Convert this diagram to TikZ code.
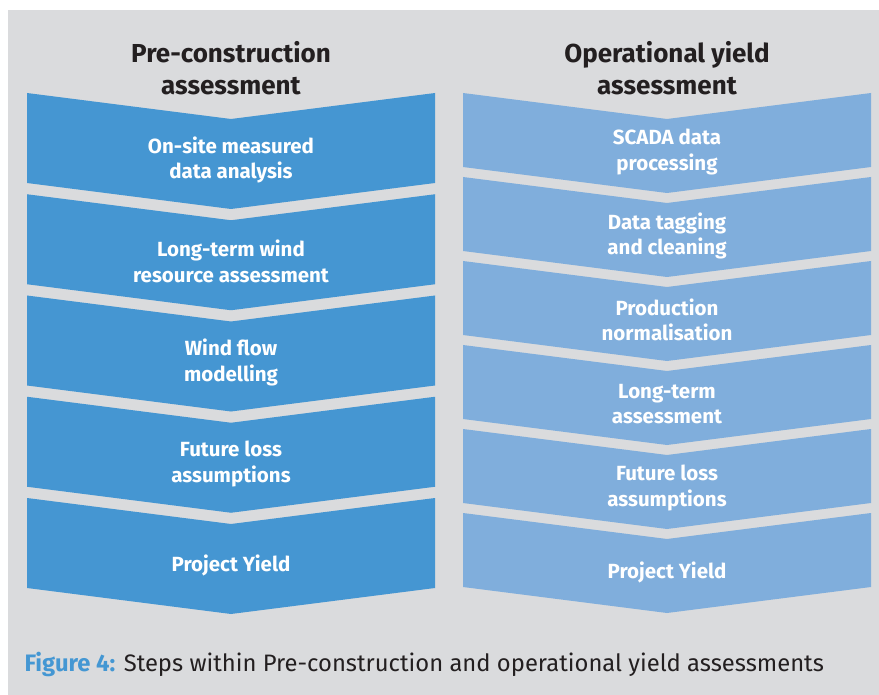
\documentclass[tikz,border=0pt]{standalone}
\usepackage{fontspec}
\setmainfont{Fira Sans}
\usepackage{tikz}
\usetikzlibrary{positioning}

\definecolor{panelgrey}{HTML}{DADBDD}
\definecolor{preblue}{HTML}{4596D2}
\definecolor{opblue}{HTML}{80AEDC}
\definecolor{captionblue}{HTML}{4497D3}
\definecolor{captiontext}{HTML}{231F20}

\tikzset{
    heading/.style={align=center, font=\fontsize{26}{32}\selectfont\bfseries, text=captiontext},
    steplabel/.style={align=center, font=\fontsize{20.5}{25.5}\selectfont\bfseries, text=white},
}

% chevron: left x, right x, top y, height, colour
\newcommand{\chevron}[5]{%
    \fill[#5] (#1,#3) -- ({(#1+#2)/2},#3+26) -- (#2,#3) -- (#2,#3+#4)
        -- ({(#1+#2)/2},#3+#4+26) -- (#1,#3+#4) -- cycle;
}

\begin{document}
\begin{tikzpicture}[x=1pt, y=-1pt]
    % background
    \useasboundingbox (0,0) rectangle (879,695);
    \fill[white] (0,0) rectangle (879,695);
    \fill[panelgrey] (8,10) rectangle (879,695);

    % column titles
    \node[heading] (pretitle) at (231,68) {Pre-construction\\assessment};
    \node[heading] (optitle) at (667,68) {Operational yield\\assessment};

    % pre-construction steps
    \foreach \txt [count=\i] in {{On-site measured\\data analysis}, {Long-term wind\\resource assessment},
        {Wind flow\\modelling}, {Future loss\\assumptions}, {Project Yield}} {
        \pgfmathsetmacro{\ytop}{93+101.25*(\i-1)}
        \chevron{27}{435}{\ytop}{90}{preblue}
        \node[steplabel] (P\i) at (231,\ytop+67) {\txt};
    }

    % operational steps
    \foreach \txt [count=\i] in {{SCADA data\\processing}, {Data tagging\\and cleaning},
        {Production\\normalisation}, {Long-term\\assessment}, {Future loss\\assumptions}, {Project Yield}} {
        \pgfmathsetmacro{\ytop}{93+84*(\i-1)}
        \chevron{463}{871}{\ytop}{74}{opblue}
        \node[steplabel] (O\i) at (667,\ytop+59) {\txt};
    }

    % caption
    \node[anchor=west, font=\fontsize{23.8}{28}\selectfont, text=captiontext] (caption) at (21,664)
        {\textcolor{captionblue}{\bfseries Figure 4:} Steps within Pre-construction and operational yield assessments};
\end{tikzpicture}
\end{document}
